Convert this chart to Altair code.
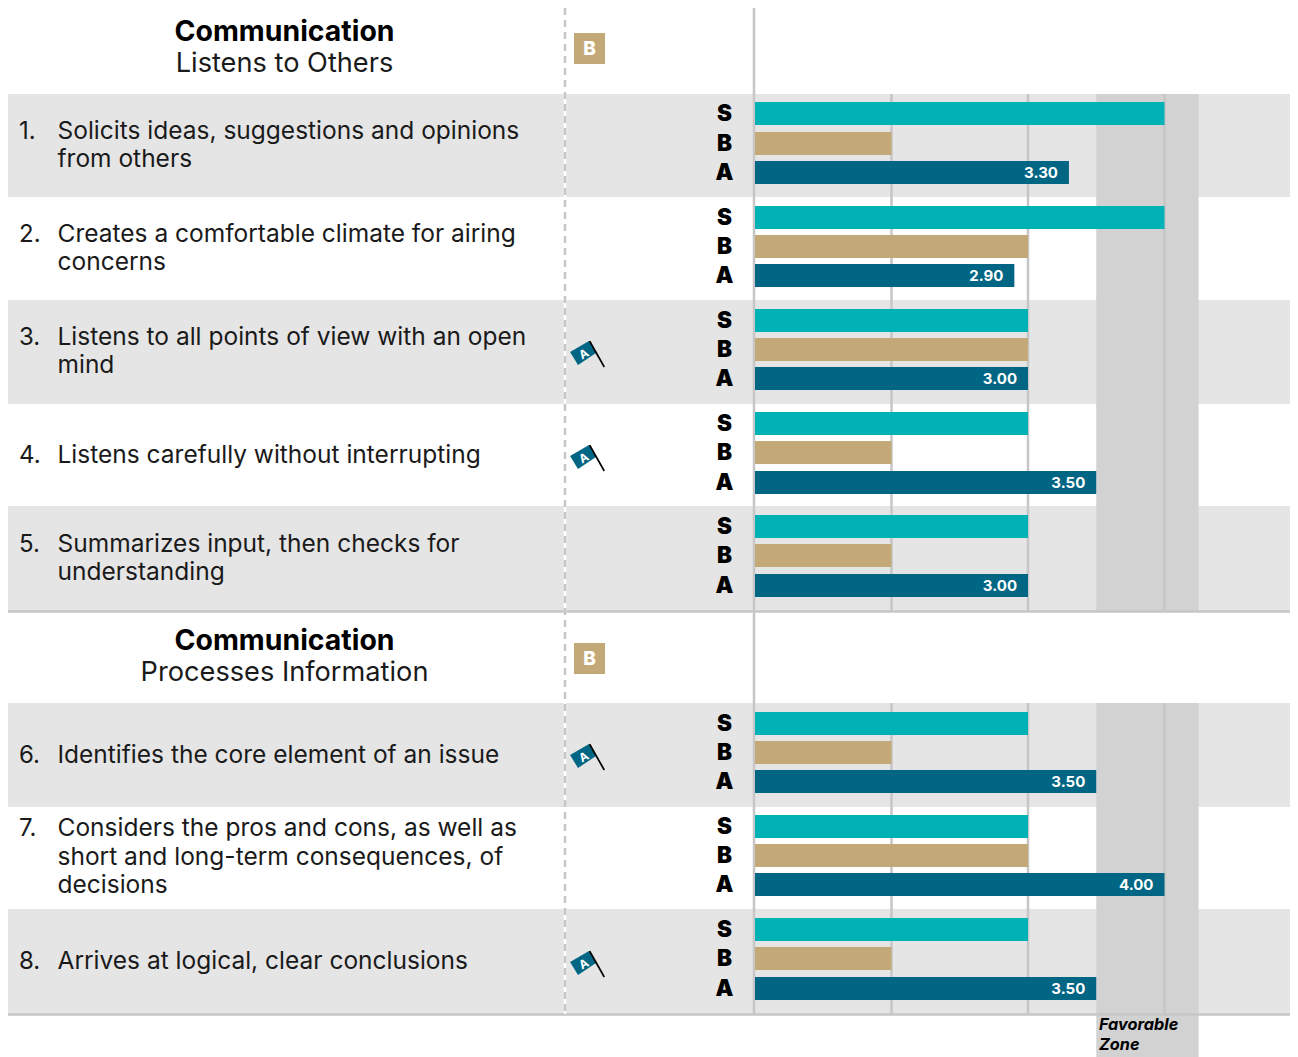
import altair as alt
import pandas as pd

# ---------- chart values ----------
numbers = ["1.", "2.", "3.", "4.", "5.", "6.", "7.", "8."]
questions = [
    ["Solicits ideas, suggestions and opinions", "from others"],
    ["Creates a comfortable climate for airing", "concerns"],
    ["Listens to all points of view with an open", "mind"],
    ["Listens carefully without interrupting"],
    ["Summarizes input, then checks for", "understanding"],
    ["Identifies the core element of an issue"],
    ["Considers the pros and cons, as well as", "short and long-term consequences, of", "decisions"],
    ["Arrives at logical, clear conclusions"],
]
s_values = [4, 4, 3, 3, 3, 3, 3, 3]
b_values = [2, 3, 3, 2, 2, 2, 3, 2]
a_values = [3.30, 2.90, 3.00, 3.50, 3.00, 3.50, 4.00, 3.50]
flagged = [False, False, True, True, False, True, False, True]
headers = [("Communication", "Listens to Others"), ("Communication", "Processes Information")]
grid_scores = [2, 3, 4]
zone_low, zone_high = 3.5, 4.25
zone_label = ["Favorable", "Zone"]

# ---------- layout (page pixels) ----------
FONT = "Inter"
row_tops = [94, 197, 300, 404, 506, 703, 807, 909]
row_bottoms = [197, 300, 404, 506, 611, 807, 909, 1014]
s_centers = [113.5, 217.5, 320.5, 423.5, 526.5, 723.5, 826.5, 929.5]
b_centers = [143.5, 246.5, 349.5, 452.5, 555.5, 752.5, 855.5, 958.5]
a_centers = [172.5, 275.5, 378.5, 482.5, 585.5, 781.5, 884.5, 988.5]
text_centers = [146, 249, 352, 455.5, 559, 755.5, 857.5, 961.5]
flag_centers = [354, 354, 354, 458, 458, 757, 757, 964]
BAR_H = 23
LINE_H = 28.6
W, H = 1282, 1049
OX = 8  # page margin


def px(v):
    return alt.value(v - OX)


xscale = alt.Scale(domain=[1 + (8 - 755) / 136.5, 1 + (8 + W - 755) / 136.5], range=[0, W], nice=False, zero=False)
yscale = alt.Scale(domain=[8, 1057], range=[0, H], nice=False, zero=False)
Y = lambda f: alt.Y(f, type="quantitative", scale=yscale, axis=None)
Y2 = lambda f: alt.Y2(f)
X = lambda f: alt.X(f, type="quantitative", scale=xscale, axis=None)
X2 = lambda f: alt.X2(f)

# ---------- tables ----------
bands = pd.DataFrame({"top": row_tops, "bot": row_bottoms, "row": range(8)})
grey_rows = bands[bands.row.isin([0, 2, 4, 5, 7])]

zone = pd.DataFrame({"top": [94, 703], "bot": [611, 1057], "lo": [zone_low] * 2, "hi": [zone_high] * 2})
grid = pd.DataFrame(
    [{"score": g, "top": t, "bot": b} for g in grid_scores for t, b in [(94, 611), (703, 1014)]]
)
bars_rows = []
for i in range(8):
    for lab, val, cy in [("S", s_values[i], s_centers[i]), ("B", b_values[i], b_centers[i]), ("A", a_values[i], a_centers[i])]:
        bars_rows.append({"series": lab, "start": 1, "val": val, "top": cy - BAR_H / 2, "bot": cy + BAR_H / 2, "cy": cy,
                          "label": f"{val:.2f}"})
bars = pd.DataFrame(bars_rows)

lines = []
for i, q in enumerate(questions):
    n = len(q)
    for j, t in enumerate(q):
        lines.append({"text": t, "y": text_centers[i] + (j - (n - 1) / 2) * LINE_H})
lines = pd.DataFrame(lines)
first_lines = pd.DataFrame({
    "text": numbers,
    "y": [text_centers[i] - (len(q) - 1) / 2 * LINE_H for i, q in enumerate(questions)],
})
head = pd.DataFrame({"bold": [h[0] for h in headers], "sub": [h[1] for h in headers],
                     "yb": [32, 641], "ys": [64, 673], "yc": [48.5, 658.5]})
flags = pd.DataFrame({"y": [flag_centers[i] for i in range(8) if flagged[i]], "t": "A"})
zone_txt = pd.DataFrame({"text": zone_label, "y": [1025, 1044.5]})

hlines = pd.DataFrame({"y": [611.5, 1014.5]})
vspan = pd.DataFrame({"top": [8], "bot": [1014]})

FLAG_PATH = "M0.11,-0.72 L-0.94,-0.11 L-0.5,0.61 L0.5,-0.06 Z"
POLE_PATH = "M0.1,-0.7 L0.19,-0.74 L1.0,0.7 L0.92,0.75 Z"

layers = [
    alt.Chart(grey_rows).mark_rect(color="#e5e5e5").encode(x=alt.value(0), x2=alt.value(W), y=Y("top"), y2=Y2("bot")),
    alt.Chart(zone).mark_rect(color="#d2d2d2").encode(x=X("lo"), x2=X2("hi"), y=Y("top"), y2=Y2("bot")),
    alt.Chart(grid).mark_rule(color="#c6c6c6", strokeWidth=2.5).encode(x=X("score"), y=Y("top"), y2=Y2("bot")),
    alt.Chart(hlines).mark_rule(color="#c6c6c6", strokeWidth=2.5).encode(x=alt.value(0), x2=alt.value(W), y=Y("y")),
    alt.Chart(vspan).mark_rule(color="#ffffff", strokeWidth=2.5).encode(x=px(565), y=Y("top"), y2=Y2("bot")),
    alt.Chart(vspan).mark_rule(color="#c6c6c6", strokeWidth=2.5, strokeDash=[7, 5]).encode(x=px(565), y=Y("top"), y2=Y2("bot")),
    alt.Chart(vspan).mark_rule(color="#c6c6c6", strokeWidth=2.5).encode(x=px(754), y=Y("top"), y2=Y2("bot")),
    alt.Chart(bars).mark_rect().encode(
        x=X("start"), x2=X2("val"), y=Y("top"), y2=Y2("bot"),
        color=alt.Color("series:N", legend=None,
                        scale=alt.Scale(domain=["S", "B", "A"], range=["#00b2b5", "#c3a978", "#006684"])),
    ),
    alt.Chart(bars).mark_text(font=FONT, fontSize=22.5, fontWeight=900, color="#000000", align="center", baseline="middle").encode(
        x=px(724.5), y=Y("cy"), text="series:N"),
    alt.Chart(bars[bars.series == "A"]).mark_text(font=FONT, fontSize=15, fontWeight=700, color="#ffffff", align="right", baseline="middle", dx=-11, dy=0.5).encode(
        x=X("val"), y=Y("cy"), text="label:N"),
    alt.Chart(first_lines).mark_text(font=FONT, fontSize=24, color="#1a1a1a", align="left", baseline="middle").encode(
        x=px(19), y=Y("y"), text="text:N"),
    alt.Chart(lines).mark_text(font=FONT, fontSize=24.5, color="#1a1a1a", align="left", baseline="middle").encode(
        x=px(57.5), y=Y("y"), text="text:N"),
    alt.Chart(head).mark_text(font=FONT, fontSize=28.4, fontWeight=700, color="#000000", align="center", baseline="middle").encode(
        x=px(284.5), y=Y("yb"), text="bold:N"),
    alt.Chart(head).mark_text(font=FONT, fontSize=27.2, color="#1a1a1a", align="center", baseline="middle").encode(
        x=px(284.5), y=Y("ys"), text="sub:N"),
    alt.Chart(head).mark_square(color="#c3a978", size=961, opacity=1, filled=True).encode(x=px(589.5), y=Y("yc")),
    alt.Chart(head).transform_calculate(b="'B'").mark_text(font=FONT, fontSize=19, fontWeight=800, color="#ffffff", align="center", baseline="middle").encode(
        x=px(589.5), y=Y("yc"), text="b:N"),
    alt.Chart(flags).mark_point(shape=FLAG_PATH, size=1296, filled=True, color="#006684", opacity=1).encode(x=px(587), y=Y("y")),
    alt.Chart(flags).mark_point(shape=POLE_PATH, size=1296, filled=True, color="#000000", opacity=1).encode(x=px(587), y=Y("y")),
    alt.Chart(flags).mark_text(font=FONT, fontSize=12, fontWeight=700, color="#ffffff", align="center", baseline="middle", angle=330).encode(
        x=px(584), y=Y("y"), text="t:N"),
    alt.Chart(zone_txt).mark_text(font=FONT, fontSize=16.3, fontWeight=700, fontStyle="italic", color="#000000", align="left", baseline="middle").encode(
        x=px(1099), y=Y("y"), text="text:N"),
]

chart = (
    alt.layer(*layers)
    .properties(width=W, height=H, padding=0, autosize="none", background="#ffffff")
    .configure_view(stroke=None)
)
chart.save("out.html", embed_options={"renderer": "svg", "actions": False})
